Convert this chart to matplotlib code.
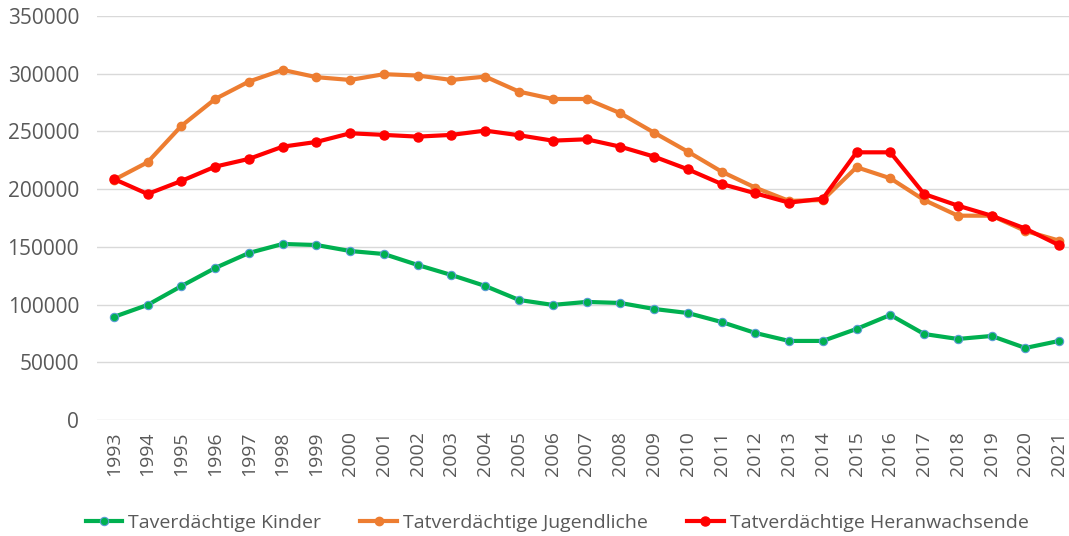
import matplotlib
matplotlib.use("Agg")
import matplotlib.pyplot as plt

years = list(range(1993, 2022))
kinder = [89300, 99700, 116000, 131700, 144700, 152500, 151600, 146400, 143800, 134300,
          125600, 116100, 104000, 99700, 102300, 101400, 96200, 92700, 84900, 75400,
          68500, 68500, 78900, 91000, 74500, 70200, 72800, 62400, 68500]
jugendliche = [208000, 223300, 254800, 278100, 293200, 303300, 297000, 294600, 299600, 298400,
               294600, 297500, 284500, 278100, 278100, 265800, 249000, 232500, 215200, 201300,
               189800, 190600, 219000, 209400, 190600, 177000, 177000, 163800, 155400]
heranwachsende = [208800, 195800, 207100, 219500, 226200, 236800, 240900, 248400, 247000, 245500,
                  247000, 250700, 246700, 242000, 243200, 236800, 228200, 217200, 204500, 196400,
                  188300, 191800, 231900, 231900, 195800, 185700, 177000, 165800, 151400]
labels = ["Taverdächtige Kinder", "Tatverdächtige Jugendliche", "Tatverdächtige Heranwachsende"]
yticks = [0, 50000, 100000, 150000, 200000, 250000, 300000, 350000]

plt.rcParams['font.family'] = ['Open Sans', 'DejaVu Sans']
fig = plt.figure(figsize=(10.69, 5.36), dpi=100)
L, R, B, T = 97, 1076, 420, 16
ax = fig.add_axes([L/1069, (536-B)/536, (R-L)/1069, (B-T)/536])
x = list(range(len(years)))
ax.plot(x, kinder, color='#00b050', lw=3, marker='o', ms=6, mfc='#00b050', mec='#5b9bd5', mew=0.8, label=labels[0], zorder=3)
ax.plot(x, jugendliche, color='#ed7d31', lw=3, marker='o', ms=6, mfc='#ed7d31', mec='#ed7d31', label=labels[1], zorder=3)
ax.plot(x, heranwachsende, color='#ff0000', lw=3, marker='o', ms=6.5, mfc='#ff0000', mec='#ff0000', label=labels[2], zorder=4)
ax.set_xlim(-0.5, len(years)-0.5)
ax.set_ylim(0, 350000)
ax.set_yticks(yticks)
ax.set_yticklabels([str(v) for v in yticks], fontsize=15, color='#595959')
ax.set_xticks(x)
ax.set_xticklabels([str(y) for y in years], rotation=90, fontsize=14, color='#595959')
ax.tick_params(axis='y', length=0, pad=13)
ax.tick_params(axis='x', length=0, pad=8)
ax.grid(axis='y', color='#d9d9d9', lw=1)
ax.set_axisbelow(True)
for s in ax.spines.values():
    s.set_visible(False)
fig.legend(loc='center', bbox_to_anchor=(0.521, 0.025), ncol=3, frameon=False, fontsize=14,
           handlelength=1.9, columnspacing=2.0, handletextpad=0.3, labelcolor='#595959')
fig.savefig('out.png', dpi=100)
